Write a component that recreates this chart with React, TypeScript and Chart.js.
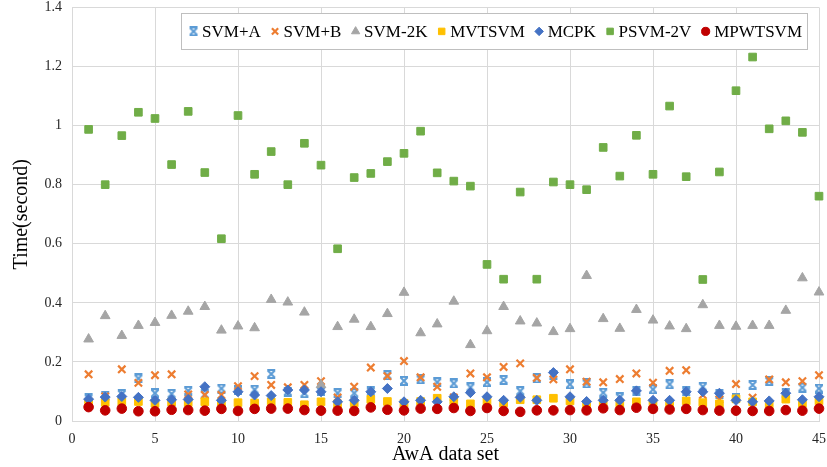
import React, { useEffect, useRef } from 'react';
import { Chart, registerables } from 'chart.js';
import * as helpers from 'chart.js/helpers';

Chart.register(...registerables);

const DATASET_IDS = [
  1, 2, 3, 4, 5, 6, 7, 8, 9, 10, 11, 12, 13, 14, 15, 16, 17, 18, 19, 20, 21, 22, 23,
  24, 25, 26, 27, 28, 29, 30, 31, 32, 33, 34, 35, 36, 37, 38, 39, 40, 41, 42, 43, 44, 45,
];

const SVM_A = [
  0.077, 0.086, 0.091, 0.144, 0.094, 0.092, 0.102, 0.090, 0.110, 0.105,
  0.106, 0.159, 0.099, 0.094, 0.100, 0.094, 0.094, 0.100, 0.155, 0.136,
  0.141, 0.131, 0.127, 0.114, 0.131, 0.139, 0.101, 0.144, 0.155, 0.124,
  0.127, 0.096, 0.080, 0.102, 0.107, 0.124, 0.100, 0.116, 0.092, 0.077,
  0.122, 0.135, 0.095, 0.113, 0.110,
];
const SVM_B = [
  0.158, 0.083, 0.175, 0.129, 0.155, 0.158, 0.090, 0.088, 0.088, 0.118,
  0.152, 0.122, 0.114, 0.122, 0.135, 0.080, 0.116, 0.181, 0.152, 0.203,
  0.148, 0.116, 0.080, 0.161, 0.148, 0.183, 0.195, 0.146, 0.141, 0.175,
  0.133, 0.131, 0.142, 0.161, 0.130, 0.170, 0.172, 0.088, 0.073, 0.125,
  0.079, 0.141, 0.131, 0.135, 0.155,
];
const SVM_2K = [
  0.277, 0.356, 0.289, 0.323, 0.333, 0.357, 0.371, 0.387, 0.307, 0.321,
  0.315, 0.411, 0.402, 0.368, 0.122, 0.319, 0.344, 0.319, 0.363, 0.435,
  0.298, 0.328, 0.405, 0.258, 0.305, 0.387, 0.338, 0.331, 0.302, 0.312,
  0.492, 0.346, 0.313, 0.377, 0.341, 0.321, 0.312, 0.393, 0.323, 0.320,
  0.323, 0.323, 0.374, 0.484, 0.436,
];
const MVTSVM = [
  0.063, 0.063, 0.065, 0.066, 0.060, 0.064, 0.062, 0.065, 0.062, 0.062,
  0.061, 0.065, 0.063, 0.055, 0.065, 0.057, 0.061, 0.073, 0.066, 0.060,
  0.066, 0.077, 0.068, 0.058, 0.065, 0.061, 0.072, 0.072, 0.077, 0.068,
  0.056, 0.062, 0.060, 0.065, 0.060, 0.057, 0.068, 0.062, 0.058, 0.075,
  0.065, 0.057, 0.074, 0.060, 0.068,
];
const MCPK = [
  0.074, 0.081, 0.083, 0.080, 0.070, 0.072, 0.073, 0.116, 0.070, 0.099,
  0.088, 0.086, 0.105, 0.105, 0.099, 0.065, 0.070, 0.099, 0.110, 0.065,
  0.070, 0.065, 0.082, 0.096, 0.082, 0.070, 0.080, 0.070, 0.164, 0.082,
  0.066, 0.070, 0.070, 0.102, 0.070, 0.070, 0.099, 0.099, 0.094, 0.070,
  0.065, 0.068, 0.094, 0.072, 0.082,
];
const PSVM_2V = [
  0.987, 0.800, 0.966, 1.045, 1.024, 0.868, 1.048, 0.841, 0.617, 1.034,
  0.835, 0.912, 0.800, 0.940, 0.866, 0.583, 0.824, 0.838, 0.878, 0.906,
  0.981, 0.840, 0.812, 0.795, 0.530, 0.480, 0.775, 0.480, 0.809, 0.800,
  0.783, 0.926, 0.829, 0.967, 0.835, 1.066, 0.827, 0.479, 0.843, 1.118,
  1.232, 0.989, 1.016, 0.977, 0.761,
];
const MPWTSVM = [
  0.047, 0.036, 0.042, 0.033, 0.033, 0.038, 0.037, 0.035, 0.041, 0.034,
  0.041, 0.042, 0.042, 0.037, 0.035, 0.035, 0.034, 0.046, 0.038, 0.036,
  0.042, 0.041, 0.044, 0.034, 0.044, 0.034, 0.031, 0.036, 0.036, 0.037,
  0.036, 0.043, 0.037, 0.045, 0.041, 0.039, 0.041, 0.037, 0.035, 0.035,
  0.034, 0.034, 0.037, 0.035, 0.042,
];

const SERIES_NAMES = ['SVM+A', 'SVM+B', 'SVM-2K', 'MVTSVM', 'MCPK', 'PSVM-2V', 'MPWTSVM'];
const SERIES_VALUES = [SVM_A, SVM_B, SVM_2K, MVTSVM, MCPK, PSVM_2V, MPWTSVM];

const X_MIN = 0;
const X_MAX = 45;
const X_STEP = 5;
const Y_MIN = 0;
const Y_MAX = 1.4;
const Y_STEP = 0.2;

const FONT = '"Liberation Serif", "Times New Roman", serif';

function makeStarMarker(color: string): HTMLCanvasElement {
  const c = document.createElement('canvas');
  c.width = 10;
  c.height = 10;
  const g = c.getContext('2d')!;
  g.strokeStyle = color;
  g.lineWidth = 2;
  g.lineCap = 'butt';
  g.beginPath();
  g.moveTo(1.5, 1.5);
  g.lineTo(8.5, 8.5);
  g.moveTo(8.5, 1.5);
  g.lineTo(1.5, 8.5);
  g.moveTo(1, 1);
  g.lineTo(9, 1);
  g.moveTo(1, 9);
  g.lineTo(9, 9);
  g.stroke();
  return c;
}

type Style = {
  color: string;
  pointStyle: any;
  radius: number;
  borderWidth: number;
};

function makeStyles(): Style[] {
  return [
    { color: '#5B9BD5', pointStyle: makeStarMarker('#5B9BD5'), radius: 5, borderWidth: 0 },
    { color: '#ED7D31', pointStyle: 'crossRot', radius: 5.2, borderWidth: 2.2 },
    { color: '#A5A5A5', pointStyle: 'triangle', radius: 5.6, borderWidth: 1 },
    { color: '#FFC000', pointStyle: 'rect', radius: 5.4, borderWidth: 1 },
    { color: '#4472C4', pointStyle: 'rectRot', radius: 5, borderWidth: 1 },
    { color: '#70AD47', pointStyle: 'rect', radius: 5.4, borderWidth: 1 },
    { color: '#C00000', pointStyle: 'circle', radius: 4.8, borderWidth: 1 },
  ];
}

const boxLegendPlugin = {
  id: 'boxLegend',
  afterDraw(chart: any) {
    const styles: Style[] = chart.options.plugins.boxLegend.styles;
    const ctx = chart.ctx as CanvasRenderingContext2D;
    const area = chart.chartArea;
    ctx.save();
    ctx.font = '17px ' + FONT;
    const markerToText = 8.5;
    const gap = 14.3;
    const widths = SERIES_NAMES.map((n) => ctx.measureText(n).width);
    let total = 0;
    widths.forEach((w, i) => {
      total += markerToText + w + (i < widths.length - 1 ? gap : 0);
    });
    const padL = 13;
    const padR = 5;
    const boxR = area.right - 12;
    const boxW = padL + total + padR;
    const boxL = boxR - boxW;
    const boxT = area.top + 6;
    const boxH = 36;
    ctx.fillStyle = '#ffffff';
    ctx.fillRect(boxL, boxT, boxW, boxH);
    ctx.strokeStyle = '#bfbfbf';
    ctx.lineWidth = 1;
    ctx.strokeRect(Math.round(boxL) + 0.5, Math.round(boxT) + 0.5, Math.round(boxW), boxH);
    const cy = boxT + boxH / 2;
    let x = boxL + padL;
    SERIES_NAMES.forEach((name, i) => {
      const s = styles[i];
      ctx.fillStyle = s.color;
      ctx.strokeStyle = s.color;
      ctx.lineWidth = s.borderWidth;
      helpers.drawPoint(
        ctx,
        { pointStyle: s.pointStyle, rotation: 0, radius: s.radius * 0.85, borderWidth: s.borderWidth },
        x,
        cy
      );
      ctx.fillStyle = '#000000';
      ctx.textBaseline = 'middle';
      ctx.textAlign = 'left';
      ctx.fillText(name, x + markerToText, cy + 1);
      x += markerToText + widths[i] + gap;
    });
    ctx.restore();
  },
};

export default function App() {
  const canvasRef = useRef<HTMLCanvasElement | null>(null);

  useEffect(() => {
    if (!canvasRef.current) return;
    const styles = makeStyles();
    const datasets = SERIES_NAMES.map((name, i) => {
      const s = styles[i];
      return {
        label: name,
        data: DATASET_IDS.map((x, k) => ({ x, y: SERIES_VALUES[i][k] })),
        showLine: false,
        clip: false,
        pointStyle: s.pointStyle,
        pointRadius: s.radius,
        pointHoverRadius: s.radius,
        pointBackgroundColor: s.color,
        pointBorderColor: s.color,
        pointBorderWidth: s.borderWidth,
        backgroundColor: s.color,
        borderColor: s.color,
        order: SERIES_NAMES.length - i,
      };
    });

    const chart = new Chart(canvasRef.current, {
      type: 'scatter',
      data: { datasets },
      plugins: [boxLegendPlugin],
      options: {
        animation: false,
        responsive: false,
        maintainAspectRatio: false,
        layout: { padding: { left: 0, right: 8, top: 7, bottom: 0 } },
        plugins: {
          legend: { display: false },
          tooltip: { enabled: false },
          boxLegend: { styles },
        } as any,
        scales: {
          x: {
            type: 'linear',
            min: X_MIN,
            max: X_MAX,
            ticks: {
              stepSize: X_STEP,
              color: '#262626',
              font: { family: FONT, size: 14 },
              padding: 10,
              maxRotation: 0,
            },
            grid: { color: '#d9d9d9', lineWidth: 1, drawTicks: false },
            border: { color: '#d9d9d9' },
            title: {
              display: true,
              text: 'AwA data set',
              color: '#000000',
              font: { family: FONT, size: 20 },
              padding: { top: 0, bottom: 0 },
            },
            afterFit: (scale: any) => {
              scale.height = 46;
              scale.paddingLeft = 0;
              scale.paddingRight = 0;
            },
          },
          y: {
            type: 'linear',
            min: Y_MIN,
            max: Y_MAX,
            ticks: {
              stepSize: Y_STEP,
              color: '#262626',
              font: { family: FONT, size: 14 },
              padding: 10,
              callback: (v: any) => String(Number(Number(v).toFixed(2))),
            },
            grid: { color: '#d9d9d9', lineWidth: 1, drawTicks: false },
            border: { color: '#d9d9d9' },
            title: {
              display: true,
              text: 'Time(second)',
              color: '#000000',
              font: { family: FONT, size: 20 },
              padding: { top: 10, bottom: 0 },
            },
            afterFit: (scale: any) => {
              scale.width = 72;
              scale.paddingTop = 0;
              scale.paddingBottom = 0;
            },
          },
        },
      } as any,
    });
    return () => chart.destroy();
  }, []);

  return (
    <div style={{ position: 'fixed', left: 0, top: 0, width: 827, height: 467, background: '#ffffff' }}>
      <canvas ref={canvasRef} width={827} height={467} style={{ width: 827, height: 467, display: 'block' }} />
    </div>
  );
}
